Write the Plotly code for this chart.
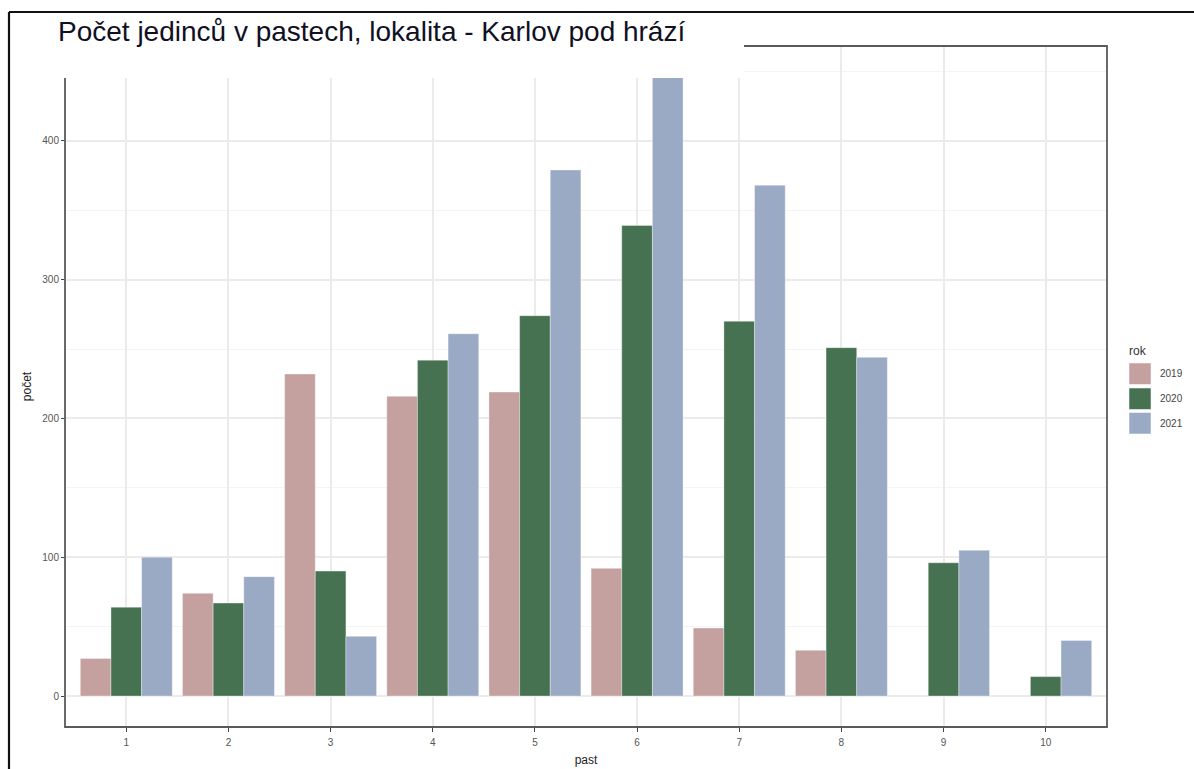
import plotly.graph_objects as go

# ---- data ----
past = ["1", "2", "3", "4", "5", "6", "7", "8", "9", "10"]
rok = ["2019", "2020", "2021"]
pocet_2019 = [27, 74, 232, 216, 219, 92, 49, 33, None, None]
pocet_2020 = [64, 67, 90, 242, 274, 339, 270, 251, 96, 14]
pocet_2021 = [100, 86, 43, 261, 379, 446, 368, 244, 105, 40]
y_ticks = [0, 100, 200, 300, 400]

title_text = "Počet jedinců v pastech, lokalita - Karlov pod hrází"
colors = ["#c4a09f", "#467252", "#9aaac5"]

# ---- layout geometry (pixels) ----
W, H = 1194, 769
L, R, T, B = 65, 1107, 46, 727


def px(x):
    return (x - L) / (R - L)


def py(y):
    return (B - y) / (B - T)


series = [pocet_2019, pocet_2020, pocet_2021]
fig = go.Figure()
for name, vals, col in zip(rok, series, colors):
    fig.add_trace(go.Bar(
        x=past, y=vals, name=name,
        marker=dict(color=col, line=dict(color="rgba(255,255,255,0.35)", width=1)),
        showlegend=False,
    ))

ymax = max(v for s in series for v in s if v is not None)
pad = 0.05 * ymax

fig.update_layout(
    width=W, height=H,
    margin=dict(l=L, r=W - R, t=T, b=H - B, pad=0, autoexpand=False),
    paper_bgcolor="white", plot_bgcolor="white",
    barmode="group", bargap=0.1, bargroupgap=0,
    font=dict(family="Liberation Sans, Arial, sans-serif", color="#4d4d4d", size=10),
    xaxis=dict(
        type="category", range=[-0.6, len(past) - 0.4],
        automargin=False,
        showgrid=True, gridcolor="#ebebeb", gridwidth=1.5,
        ticks="outside", ticklen=4, tickcolor="#444", tickwidth=1,
        ticklabelstandoff=2,
        tickfont=dict(size=10, color="#555"),
        showline=False, zeroline=False,
        title=dict(text="past", font=dict(size=12, color="#222"), standoff=8),
    ),
    yaxis=dict(
        range=[-pad, ymax + pad],
        tickvals=y_ticks,
        automargin=False,
        showgrid=True, gridcolor="#ebebeb", gridwidth=1.5,
        minor=dict(dtick=50, tick0=0, showgrid=True, gridcolor="#f4f4f4", gridwidth=1),
        ticks="outside", ticklen=3, tickcolor="#444", tickwidth=1,
        tickfont=dict(size=10, color="#555"),
        showline=False, zeroline=False,
        title=dict(text="počet", font=dict(size=12, color="#222"), standoff=8),
    ),
)

shapes = []
# panel border
shapes.append(dict(type="rect", xref="paper", yref="paper", x0=0, x1=1, y0=0, y1=1,
                   line=dict(color="#5a5a5a", width=1.8), fillcolor="rgba(0,0,0,0)", layer="above"))
# white title overlay box
shapes.append(dict(type="rect", xref="paper", yref="paper",
                   x0=px(10), x1=px(744), y0=py(78), y1=py(13.5),
                   line=dict(width=0), fillcolor="white", layer="above"))
# outer black frame (top and left)
shapes.append(dict(type="line", xref="paper", yref="paper",
                   x0=px(9), x1=px(W + 5), y0=py(12), y1=py(12),
                   line=dict(color="#111", width=2.2), layer="above"))
shapes.append(dict(type="line", xref="paper", yref="paper",
                   x0=px(9), x1=px(9), y0=py(12), y1=py(H + 5),
                   line=dict(color="#111", width=2.2), layer="above"))

annotations = [
    dict(text=title_text, xref="paper", yref="paper", x=px(56), y=py(31),
         xanchor="left", yanchor="middle", showarrow=False,
         font=dict(family="Liberation Sans, Arial, sans-serif", size=28, color="#101024")),
    dict(text="rok", xref="paper", yref="paper", x=px(1127), y=py(351),
         xanchor="left", yanchor="middle", showarrow=False,
         font=dict(size=12, color="#333")),
]

# manual legend keys
key_tops = [363, 388, 412.5]
for name, col, top in zip(rok, colors, key_tops):
    shapes.append(dict(type="rect", xref="paper", yref="paper",
                       x0=px(1129), x1=px(1151), y0=py(top + 21.5), y1=py(top),
                       fillcolor=col, line=dict(color="rgba(255,255,255,0.5)", width=1),
                       layer="above"))
    annotations.append(dict(text=name, xref="paper", yref="paper", x=px(1158),
                            y=py(top + 10.8), xanchor="left", yanchor="middle",
                            showarrow=False, font=dict(size=10, color="#444")))

fig.update_layout(shapes=shapes, annotations=annotations)
fig.write_html("out.html", config={"displayModeBar": False},
               post_script="document.body.style.margin='0';document.body.style.overflow='hidden';")
